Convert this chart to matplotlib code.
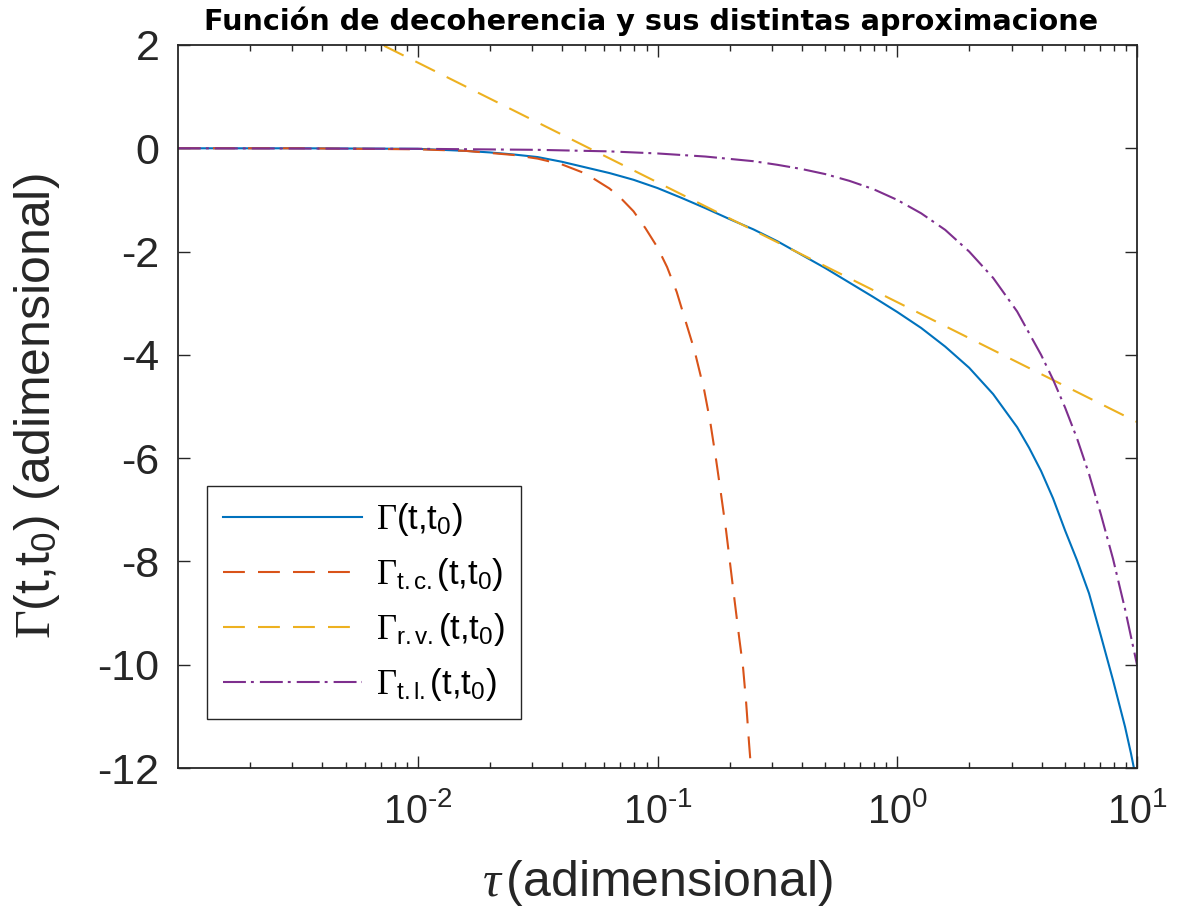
import numpy as np
import matplotlib
matplotlib.use("Agg")
import matplotlib.pyplot as plt
from matplotlib.ticker import FixedLocator, LogLocator, NullFormatter

# ---------------- data ----------------
# log10(tau) positions and Gamma values for each curve
blue_logtau = [-3.0, -2.5, -2.0, -1.9, -1.8, -1.7, -1.6, -1.5, -1.4, -1.3, -1.2, -1.1,
               -1.0, -0.9, -0.8, -0.7, -0.6, -0.5, -0.4, -0.3, -0.2, -0.1, 0.0, 0.1,
               0.2, 0.3, 0.4, 0.5, 0.55, 0.6, 0.65, 0.7, 0.75, 0.8, 0.85, 0.9, 0.95,
               0.975, 1.0]
blue_gamma = [0.0, 0.0, -0.01, -0.03, -0.05, -0.08, -0.12, -0.17, -0.26, -0.37, -0.48, -0.61,
              -0.77, -0.96, -1.16, -1.37, -1.57, -1.80, -2.06, -2.32, -2.60, -2.88, -3.17, -3.48,
              -3.84, -4.25, -4.76, -5.40, -5.80, -6.25, -6.78, -7.40, -7.98, -8.62, -9.45, -10.3, -11.2,
              -11.72, -12.3]

red_logtau = [-3.0, -2.5, -2.0, -1.8, -1.6, -1.5, -1.4, -1.3, -1.2, -1.15, -1.1, -1.05,
              -1.0, -0.96, -0.92, -0.888, -0.846, -0.805, -0.78, -0.755, -0.735, -0.714,
              -0.68, -0.66, -0.643, -0.63, -0.618, -0.60]
red_gamma = [0.0, 0.0, -0.02, -0.05, -0.13, -0.20, -0.31, -0.49, -0.78, -0.98, -1.22, -1.55,
             -1.92, -2.30, -2.78, -3.27, -3.91, -4.69, -5.30, -6.05, -6.70, -7.40,
             -8.70, -9.45, -10.06, -10.75, -11.53, -12.6]

orange_logtau = [-3.0, -2.0, -1.0, 0.0, 1.0]
orange_gamma = [3.97, 1.66, -0.66, -2.98, -5.30]

purple_logtau = [-3.0, -2.0, -1.5, -1.2, -1.0, -0.8, -0.6, -0.5, -0.4, -0.3, -0.2, -0.1,
                 0.0, 0.1, 0.2, 0.3, 0.4, 0.5, 0.6, 0.65, 0.7, 0.75, 0.8, 0.85, 0.9,
                 0.95, 1.0]
purple_gamma = [0.0, -0.01, -0.03, -0.06, -0.10, -0.16, -0.25, -0.32, -0.40, -0.50, -0.63, -0.79,
                -1.0, -1.26, -1.58, -2.0, -2.51, -3.16, -4.0, -4.48, -5.02, -5.62, -6.31, -7.10, -7.95,
                -8.92, -10.0]

legend_labels = [r'$\Gamma$(t,t$_{\mathsf{0}}$)',
                 r'$\Gamma_{\mathsf{t.c.}}$(t,t$_{\mathsf{0}}$)',
                 r'$\Gamma_{\mathsf{r.v.}}$(t,t$_{\mathsf{0}}$)',
                 r'$\Gamma_{\mathsf{t.l.}}$(t,t$_{\mathsf{0}}$)']
x_ticks = [1e-2, 1e-1, 1e0, 1e1]
x_ticklabels = [r'$\mathsf{10^{‐2}}$', r'$\mathsf{10^{‐1}}$',
                r'$\mathsf{10^{0}}$', r'$\mathsf{10^{1}}$']
y_ticks = [2, 0, -2, -4, -6, -8, -10, -12]
title_text = 'Función de decoherencia y sus distintas aproximacione'
xlabel_text = r'$\tau\,$(adimensional)'
ylabel_text = r'$\Gamma$(t,t$_{\mathsf{0}}$) (adimensional)'

# ---------------- style ----------------
plt.rcParams['font.family'] = ['Liberation Sans', 'DejaVu Sans']
plt.rcParams['mathtext.fontset'] = 'custom'
plt.rcParams['mathtext.rm'] = 'Liberation Serif'
plt.rcParams['mathtext.it'] = 'Liberation Serif:italic'
plt.rcParams['mathtext.bf'] = 'Liberation Serif:bold'
plt.rcParams['mathtext.sf'] = 'Liberation Sans'
plt.rcParams['axes.unicode_minus'] = False

AX = '#262626'
C_BLUE = '#0072BD'
C_RED = '#D95319'
C_ORANGE = '#EDB120'
C_PURPLE = '#7E2F8E'

fig = plt.figure(figsize=(11.83, 9.17), dpi=100)
ax = fig.add_axes([178 / 1183, 1 - 768 / 917, (1137 - 178) / 1183, (768 - 45) / 917])

tb = 10 ** np.array(blue_logtau)
tr = 10 ** np.array(red_logtau)
to = 10 ** np.array(orange_logtau)
tp = 10 ** np.array(purple_logtau)

lw = 1.5
ax.plot(tb, blue_gamma, color=C_BLUE, lw=lw, label=legend_labels[0])
ax.plot(tr, red_gamma, color=C_RED, lw=lw, linestyle=(0, (10.5, 6.3)), label=legend_labels[1])
ax.plot(to, orange_gamma, color=C_ORANGE, lw=lw, linestyle=(0, (10.5, 6.3)), label=legend_labels[2])
ax.plot(tp, purple_gamma, color=C_PURPLE, lw=lw, linestyle=(0, (11, 2.4, 1.4, 2.9)), label=legend_labels[3])

ax.set_xscale('log')
ax.set_xlim(1e-3, 10)
ax.set_ylim(-12, 2)

ax.xaxis.set_major_locator(FixedLocator(x_ticks))
ax.set_xticklabels(x_ticklabels)
ax.xaxis.set_minor_locator(LogLocator(base=10, subs=np.arange(2, 10), numticks=20))
ax.xaxis.set_minor_formatter(NullFormatter())
ax.set_yticks(y_ticks)
ax.set_yticklabels([str(v) for v in y_ticks])

for s in ax.spines.values():
    s.set_color(AX)
    s.set_linewidth(1.3)

ax.tick_params(which='both', direction='in', top=True, right=True, colors=AX)
ax.tick_params(which='major', length=8.6, width=1.0)
ax.tick_params(which='minor', length=4.3, width=1.0)
ax.tick_params(axis='y', which='major', labelsize=31, pad=13.5)
ax.tick_params(axis='x', which='major', labelsize=28.5, pad=17)

ttl = ax.set_title(title_text, fontsize=20.6, fontweight='bold', family='DejaVu Sans',
                   color='black', pad=11)
ttl.set_x(0.493)
ax.set_xlabel(xlabel_text, fontsize=36, color=AX)
ax.xaxis.set_label_coords(0.5, -0.124)
ax.set_ylabel(ylabel_text, fontsize=36, color=AX)
ax.yaxis.set_label_coords(-0.121, 0.5)

leg = ax.legend(loc='lower left', bbox_to_anchor=(29 / 959, 49 / 723), borderaxespad=0,
                fontsize=25, frameon=True, fancybox=False, framealpha=1,
                edgecolor=AX, handlelength=4.0, handletextpad=0.43, labelspacing=0.52,
                borderpad=0.45)
leg.get_frame().set_linewidth(1.0)
for t in leg.get_texts():
    t.set_color('black')

fig.savefig('out.png', dpi=100)
